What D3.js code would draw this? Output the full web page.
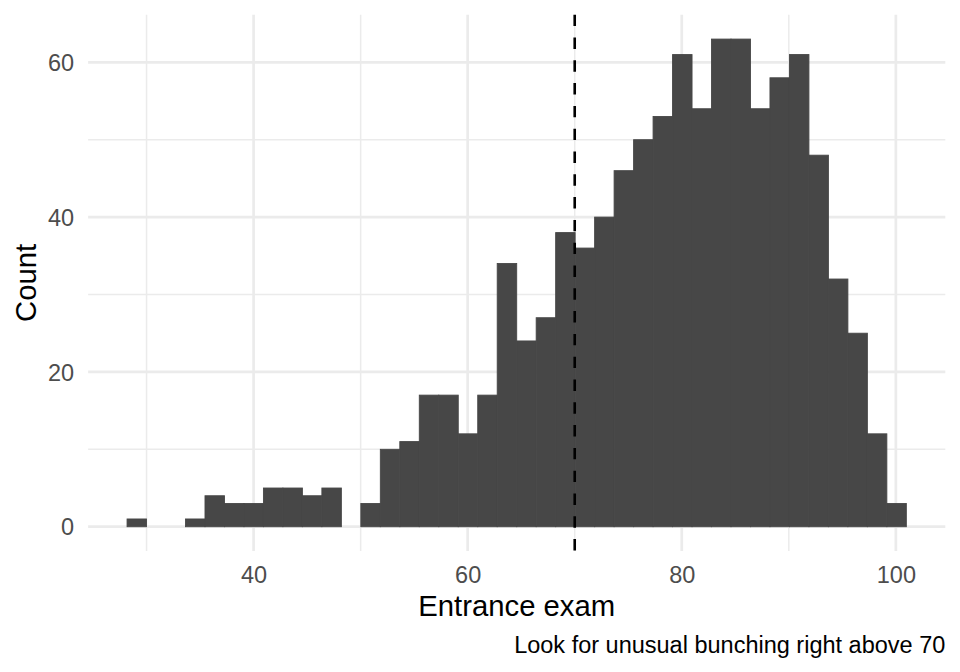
<!DOCTYPE html>
<html>
<head>
<meta charset="utf-8">
<script src="https://cdn.jsdelivr.net/npm/d3@7"></script>
<style>
  html, body { margin: 0; padding: 0; background: #fff; }
  svg { display: block; font-family: "Liberation Sans", Arial, Helvetica, sans-serif; }
</style>
</head>
<body>
<svg id="chart" width="960" height="672"></svg>
<script>
// ---- data ----
const binStart = 28.18;     // lower edge of first bin
const binWidth = 1.82;      // bin width
const counts = [1, 0, 0, 1, 4, 3, 3, 5, 5, 4,
                5, 0, 3, 10, 11, 17, 17, 12, 17, 34,
                24, 27, 38, 36, 40, 46, 50, 53, 61, 54,
                63, 63, 54, 58, 61, 48, 32, 25, 12, 3];
const xMajorTicks = [40, 60, 80, 100];
const xMinorTicks = [30, 50, 70, 90];
const yMajorTicks = [0, 20, 40, 60];
const yMinorTicks = [10, 30, 50];
const cutoff = 70;
const xTitle = "Entrance exam";
const yTitle = "Count";
const caption = "Look for unusual bunching right above 70";

// ---- layout ----
const svg = d3.select("#chart");
const panel = { left: 88.1, right: 945.3, top: 14.7, bottom: 551.1 };

const xMin = binStart, xMax = binStart + counts.length * binWidth;
const xPad = 0.05 * (xMax - xMin);
const yMax = d3.max(counts);
const yPad = 0.05 * yMax;

const x = d3.scaleLinear().domain([xMin - xPad, xMax + xPad]).range([panel.left, panel.right]);
const y = d3.scaleLinear().domain([-yPad, yMax + yPad]).range([panel.bottom, panel.top]);

const grid = svg.append("g");
// minor grid
grid.selectAll("line.xminor").data(xMinorTicks).join("line")
  .attr("x1", d => x(d)).attr("x2", d => x(d))
  .attr("y1", panel.top).attr("y2", panel.bottom)
  .attr("stroke", "#EBEBEB").attr("stroke-width", 1.5);
grid.selectAll("line.yminor").data(yMinorTicks).join("line")
  .attr("y1", d => y(d)).attr("y2", d => y(d))
  .attr("x1", panel.left).attr("x2", panel.right)
  .attr("stroke", "#EBEBEB").attr("stroke-width", 1.5);
// major grid
grid.selectAll("line.xmajor").data(xMajorTicks).join("line")
  .attr("x1", d => x(d)).attr("x2", d => x(d))
  .attr("y1", panel.top).attr("y2", panel.bottom)
  .attr("stroke", "#EBEBEB").attr("stroke-width", 2.7);
grid.selectAll("line.ymajor").data(yMajorTicks).join("line")
  .attr("y1", d => y(d)).attr("y2", d => y(d))
  .attr("x1", panel.left).attr("x2", panel.right)
  .attr("stroke", "#EBEBEB").attr("stroke-width", 2.7);

// bars
svg.append("g").selectAll("rect").data(counts).join("rect")
  .attr("x", (d, i) => x(binStart + i * binWidth))
  .attr("width", (d, i) => x(binStart + (i + 1) * binWidth) - x(binStart + i * binWidth))
  .attr("y", d => y(d))
  .attr("height", d => y(0) - y(d))
  .attr("fill", "#474747")
  .attr("stroke", "#474747")
  .attr("stroke-width", d => d > 0 ? 0.9 : 0);

// cutoff line
svg.append("line")
  .attr("x1", x(cutoff)).attr("x2", x(cutoff))
  .attr("y1", panel.top).attr("y2", panel.bottom)
  .attr("stroke", "#000").attr("stroke-width", 2.6)
  .attr("stroke-dasharray", "11.4,11.4");

// axes (labels only)
const xAxis = svg.append("g")
  .attr("transform", `translate(0,${panel.bottom})`)
  .call(d3.axisBottom(x).tickValues(xMajorTicks).tickSize(0).tickPadding(15.2));
const yAxis = svg.append("g")
  .attr("transform", `translate(${panel.left},0)`)
  .call(d3.axisLeft(y).tickValues(yMajorTicks).tickSize(0).tickPadding(14));
[xAxis, yAxis].forEach(a => {
  a.select(".domain").remove();
  a.selectAll("text")
    .attr("font-family", "'Liberation Sans', Arial, Helvetica, sans-serif")
    .attr("font-size", "23.5px")
    .attr("fill", "#4D4D4D");
});
yAxis.selectAll("text").attr("dy", "0.35em");

// titles
svg.append("text")
  .attr("x", (panel.left + panel.right) / 2).attr("y", 616)
  .attr("text-anchor", "middle")
  .attr("font-size", "29.3px").attr("fill", "#000")
  .text(xTitle);
svg.append("text")
  .attr("transform", `translate(36,${(panel.top + panel.bottom) / 2}) rotate(-90)`)
  .attr("text-anchor", "middle")
  .attr("font-size", "29.3px").attr("fill", "#000")
  .text(yTitle);
svg.append("text")
  .attr("x", panel.right).attr("y", 653)
  .attr("text-anchor", "end")
  .attr("font-size", "23.5px").attr("fill", "#000")
  .text(caption);
</script>
</body>
</html>
